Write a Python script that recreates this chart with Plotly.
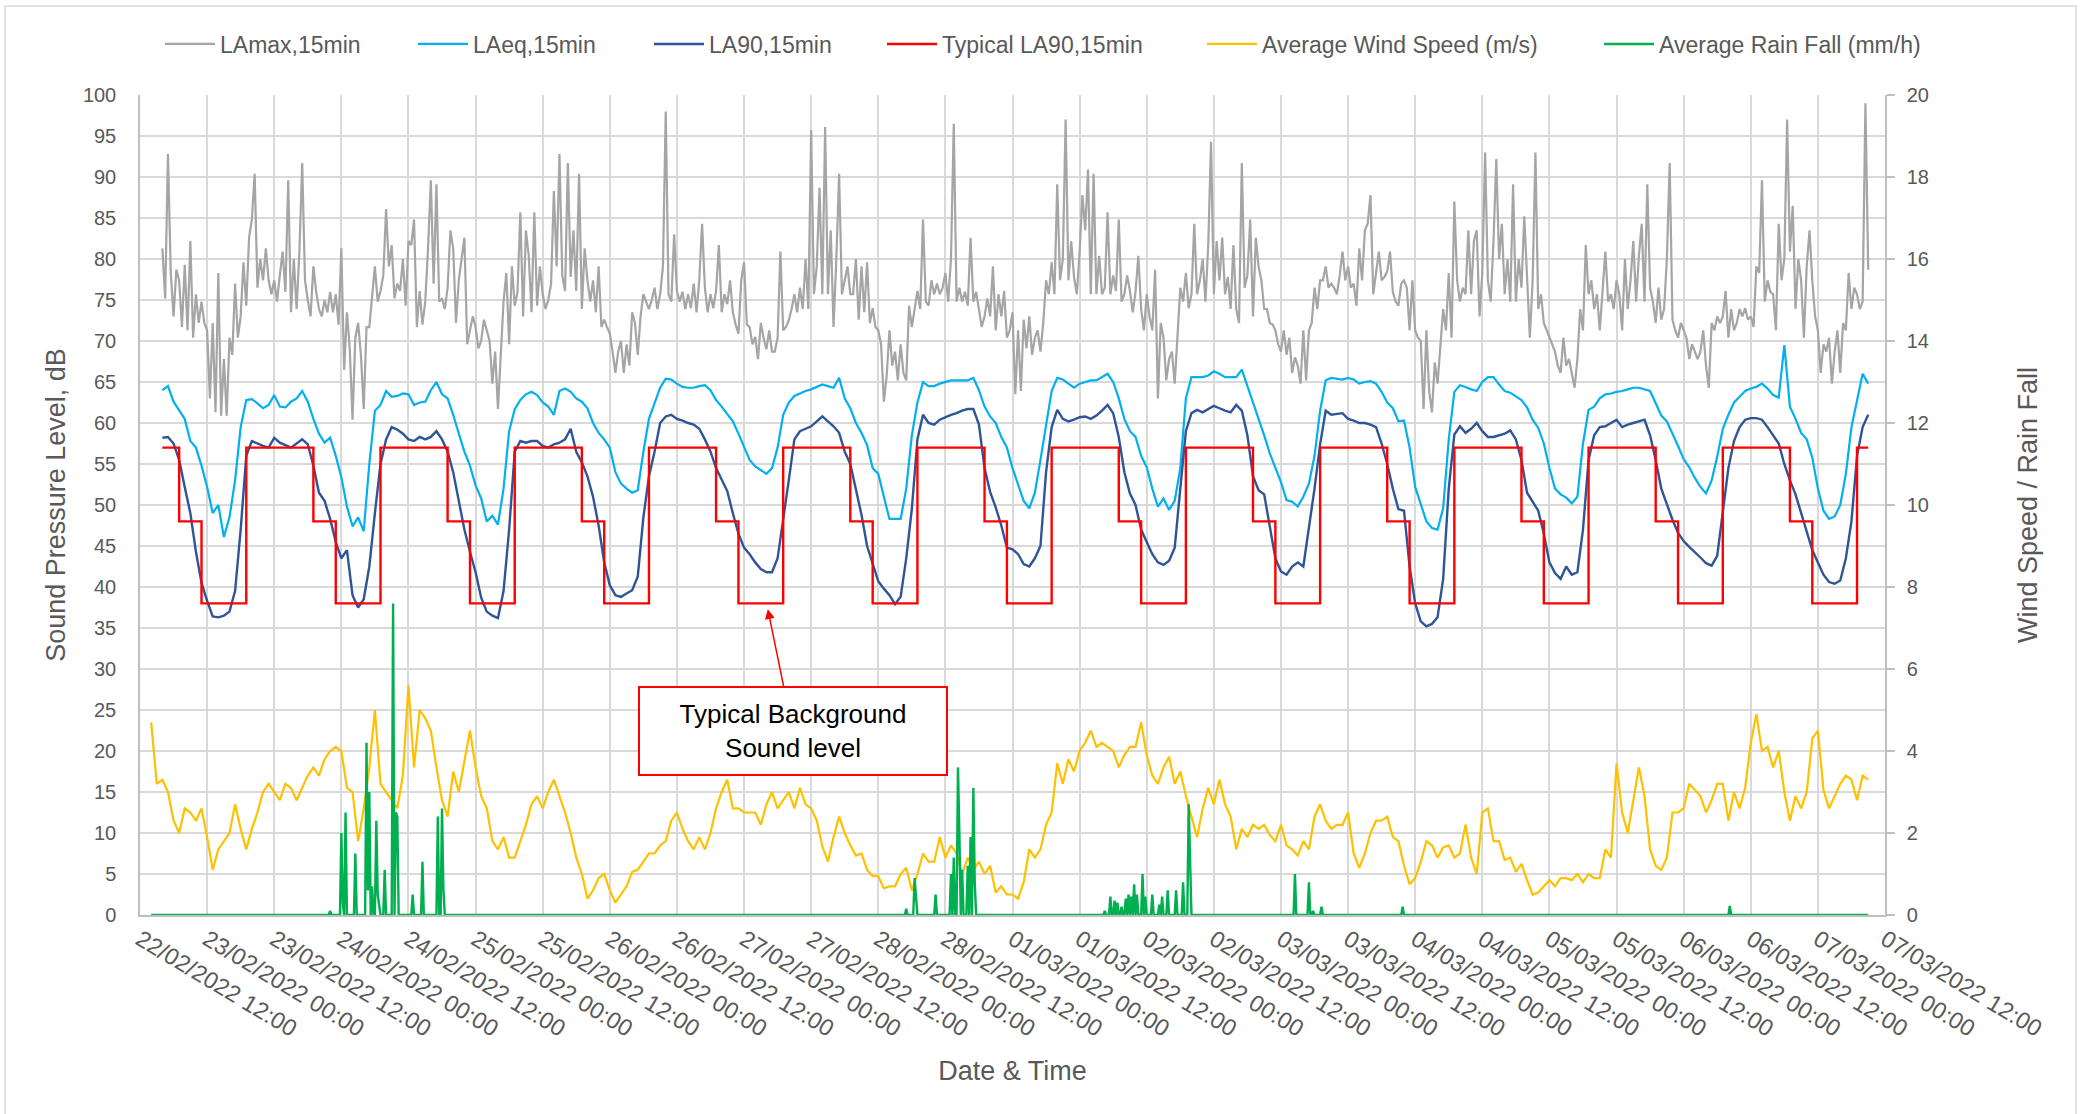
import pandas as pd
import plotly.graph_objects as go

# ---------------- data ----------------
SOUND_START = "2022-02-22 16:00"   # LAeq / LA90 hourly, LAmax half-hourly
WIND_START = "2022-02-22 14:00"    # hourly values
RAIN_START = "2022-02-22 14:00"    # 15-min values (zero where no rain)
RAIN_END = "2022-03-07 09:00"

la_max = [
    # 22/02 16:00 -> 27/02 09:30 (30-min readings)
    81.3, 75.2, 92.8, 78.3, 73.0, 78.7, 77.4, 71.7, 79.3, 71.3, 82.2, 70.4,
    75.7, 72.2, 74.8, 72.2, 71.3, 63.0, 72.2, 61.3, 78.3, 60.9, 67.8, 60.9,
    70.4, 68.3, 77.0, 70.4, 73.0, 79.6, 74.3, 82.6, 84.8, 90.4, 76.5, 80.0,
    77.4, 81.3, 77.4, 75.7, 77.4, 74.8, 78.0, 80.9, 76.0, 89.6, 73.5, 80.0,
    73.9, 80.9, 91.7, 77.4, 75.0, 73.0, 79.1, 76.0, 73.9, 73.0, 75.0, 73.5,
    76.0, 73.5, 75.7, 72.0, 81.3, 66.5, 73.5, 69.1, 60.4, 70.4, 72.2, 68.3,
    61.7, 71.7, 71.7, 75.2, 79.1, 74.8, 76.1, 78.0, 86.1, 79.1, 81.7, 75.2,
    77.0, 76.1, 80.0, 74.3, 82.2, 81.7, 84.8, 71.7, 76.1, 72.0, 74.8, 81.3,
    89.6, 77.0, 89.1, 74.8, 75.2, 73.9, 76.5, 83.5, 81.3, 72.2, 77.4, 80.0,
    82.6, 69.6, 71.3, 73.0, 71.7, 69.1, 70.0, 72.6, 71.3, 70.0, 64.8, 68.7,
    61.7, 68.3, 74.8, 78.3, 69.6, 79.1, 74.3, 76.0, 85.7, 73.0, 83.5, 80.4,
    73.5, 85.7, 74.3, 79.1, 75.7, 73.9, 75.0, 77.0, 88.3, 79.1, 92.8, 78.0,
    76.1, 91.7, 77.8, 83.5, 76.1, 90.4, 73.9, 81.3, 77.4, 74.8, 77.4, 73.5,
    79.1, 71.7, 72.6, 71.7, 70.9, 68.7, 66.1, 68.7, 70.0, 66.1, 69.6, 67.0,
    73.5, 72.2, 68.3, 73.0, 75.7, 74.8, 73.9, 75.0, 76.5, 73.9, 75.7, 79.1,
    98.0, 75.7, 74.8, 83.0, 76.1, 74.8, 76.0, 73.9, 75.7, 74.0, 77.0, 73.5,
    77.4, 84.3, 76.5, 73.5, 75.7, 74.0, 76.1, 81.7, 73.5, 75.7, 74.5, 77.4,
    73.5, 72.0, 70.9, 77.4, 79.6, 72.0, 71.7, 69.6, 70.5, 67.8, 72.2, 70.4,
    69.0, 71.3, 68.7, 68.7, 70.4, 80.9, 71.3, 71.7, 72.5, 73.9, 75.7, 73.5,
    # 27/02 10:00 -> 03/03 20:30
    76.5, 73.9, 80.0, 73.9, 95.7, 75.7, 79.1, 88.7, 75.7, 96.1, 75.7, 83.5,
    71.7, 80.0, 90.4, 75.7, 77.4, 79.1, 75.7, 75.7, 80.0, 72.6, 79.1, 73.5,
    79.6, 72.2, 74.0, 71.7, 71.3, 69.6, 62.6, 65.7, 71.3, 67.0, 68.7, 65.2,
    69.6, 66.1, 65.2, 74.3, 71.7, 73.9, 76.1, 73.9, 84.8, 74.8, 74.3, 77.4,
    75.7, 77.0, 75.7, 76.5, 78.3, 74.8, 80.0, 96.5, 74.8, 76.5, 74.8, 76.0,
    74.3, 82.6, 74.8, 76.0, 73.9, 71.7, 73.0, 75.2, 73.0, 79.1, 71.3, 75.7,
    73.0, 76.1, 70.4, 71.3, 73.5, 63.5, 71.3, 63.9, 72.6, 69.1, 73.0, 68.3,
    70.4, 71.3, 68.7, 72.2, 77.4, 75.7, 79.6, 75.7, 89.1, 77.4, 80.0, 97.0,
    77.4, 82.2, 77.8, 75.7, 80.9, 87.8, 83.5, 90.9, 75.7, 90.4, 75.7, 80.4,
    75.7, 76.5, 85.7, 75.7, 78.0, 76.1, 84.8, 74.8, 75.7, 78.0, 76.1, 73.5,
    76.0, 80.4, 73.9, 71.3, 75.7, 73.0, 71.3, 78.7, 63.0, 72.2, 70.4, 65.2,
    67.8, 68.7, 64.8, 70.4, 76.5, 74.8, 78.3, 74.0, 75.7, 84.3, 75.7, 77.4,
    80.0, 74.8, 81.7, 94.3, 75.7, 82.2, 77.4, 82.6, 75.7, 77.8, 73.9, 81.7,
    73.9, 72.2, 91.7, 76.5, 78.0, 84.8, 73.0, 82.6, 79.1, 77.4, 73.9, 73.9,
    72.2, 72.0, 71.3, 69.6, 68.7, 71.3, 68.3, 70.4, 66.1, 68.0, 67.0, 64.8,
    71.3, 65.2, 71.3, 72.2, 76.5, 73.9, 77.4, 77.4, 79.1, 76.5, 77.0, 76.5,
    75.7, 78.0, 80.9, 77.4, 79.1, 76.5, 77.0, 74.3, 81.3, 77.4, 83.5, 84.3,
    87.8, 75.7, 78.0, 80.9, 77.4, 77.8, 78.5, 80.9, 76.0, 74.8,
    # 03/03 21:00 -> 07/03 09:00
    74.3, 77.0, 77.4, 76.5, 71.3, 77.4, 71.3, 70.4, 70.0, 61.7, 71.3, 63.9,
    61.3, 67.4, 64.8, 69.6, 73.9, 71.3, 78.3, 70.4, 87.0, 77.4, 74.8, 76.5,
    75.7, 83.5, 75.7, 82.2, 83.5, 73.0, 78.3, 93.0, 77.4, 74.8, 82.2, 92.2,
    80.0, 84.3, 75.7, 80.0, 74.8, 89.1, 74.8, 80.0, 76.5, 85.2, 77.4, 70.4,
    77.4, 93.0, 73.9, 75.7, 72.2, 71.3, 70.4, 69.6, 68.7, 67.0, 66.1, 70.4,
    67.0, 67.8, 66.1, 64.3, 67.8, 73.9, 71.3, 81.7, 75.7, 77.4, 73.9, 75.7,
    71.3, 75.7, 80.9, 74.8, 75.7, 73.9, 77.4, 75.7, 71.3, 80.0, 73.9, 77.4,
    82.2, 74.8, 80.4, 84.3, 74.8, 89.1, 76.5, 74.8, 72.2, 76.5, 72.6, 73.9,
    80.0, 91.7, 72.6, 71.3, 70.4, 72.2, 71.3, 70.4, 67.8, 69.6, 68.7, 67.8,
    68.7, 71.3, 67.0, 64.3, 72.2, 71.3, 73.0, 72.2, 73.0, 76.1, 70.4, 73.9,
    71.3, 72.2, 73.9, 73.0, 74.0, 72.6, 73.0, 71.7, 79.1, 78.3, 89.6, 74.8,
    77.4, 76.0, 75.7, 71.3, 84.3, 77.4, 80.0, 97.0, 80.9, 86.5, 73.9, 80.0,
    77.4, 70.4, 79.1, 83.5, 77.4, 73.0, 71.3, 66.1, 69.6, 68.7, 70.4, 64.8,
    68.7, 71.3, 66.1, 72.2, 71.3, 78.3, 73.9, 76.5, 75.7, 73.9, 74.8, 99.0,
    78.7,
]

la_eq = [
    64.0, 64.5, 62.6, 61.5, 60.5, 57.8, 57.0, 54.8,
    52.2, 49.0, 50.0, 46.1, 48.5, 53.0, 59.5, 62.8, 62.9, 62.4, 61.8, 62.2,
    63.4, 62.0, 61.9, 62.6, 63.0, 63.9, 62.6, 60.5, 58.7, 57.6, 58.2, 56.0,
    53.4, 49.8, 47.4, 48.5, 46.8, 55.0, 61.5, 62.2, 63.9, 63.2, 63.3, 63.6,
    63.5, 62.2, 62.5, 62.6, 64.0, 65.0, 63.5, 63.0, 61.0, 58.7, 56.5, 54.8,
    52.4, 50.8, 48.0, 48.7, 47.6, 52.0, 59.0, 61.7, 62.8, 63.5, 63.8, 63.4,
    62.5, 62.0, 61.0, 63.9, 64.2, 63.8, 63.0, 62.6, 61.8, 60.0, 58.8, 58.0,
    57.0, 54.0, 52.6, 52.0, 51.5, 51.8, 56.5, 60.5, 62.5, 64.3, 65.4, 65.3,
    64.8, 64.4, 64.3, 64.3, 64.5, 64.6, 64.0, 62.8, 62.0, 61.1, 60.2, 58.7,
    57.2, 55.5, 54.7, 54.2, 53.8, 54.5, 57.0, 61.0, 62.5, 63.3, 63.6, 63.9,
    64.1, 64.4, 64.7, 64.5, 64.3, 65.5, 63.0, 61.8, 60.0, 58.8, 57.3, 54.5,
    53.8, 51.0, 48.3, 48.3, 48.3, 52.0, 58.5, 62.5, 65.0, 64.5, 64.5, 64.8,
    65.0, 65.2, 65.2, 65.2, 65.2, 65.5, 64.0, 62.0, 60.8, 60.0, 58.3, 57.0,
    54.5, 52.5, 50.5, 49.6, 51.5, 55.5, 59.5, 63.9, 65.5, 65.3, 64.8, 64.3,
    64.8, 65.0, 65.2, 65.2, 65.6, 66.0, 65.0, 63.0, 60.5, 59.0, 58.3, 56.0,
    54.6, 52.0, 49.8, 50.8, 49.4, 50.5, 54.5, 63.0, 65.6, 65.6, 65.6, 65.8,
    66.3, 66.0, 65.6, 65.6, 65.6, 66.5, 64.5, 62.5, 60.7, 58.5, 56.3, 54.6,
    52.8, 50.6, 50.4, 49.8, 51.0, 52.6, 56.0, 61.5, 65.2, 65.5, 65.4, 65.3,
    65.5, 65.3, 64.8, 65.0, 65.1, 64.8, 63.8, 62.5, 61.8, 60.2, 60.3, 57.0,
    52.2, 50.0, 48.0, 47.2, 47.0, 49.6, 58.0, 63.8, 64.6, 64.4, 64.1, 63.9,
    65.0, 65.6, 65.6, 64.7, 63.9, 63.7, 63.3, 62.8, 61.9, 60.4, 59.4, 57.5,
    54.5, 52.0, 51.3, 50.9, 50.2, 51.0, 57.5, 61.6, 62.0, 63.0, 63.5, 63.6,
    63.8, 63.9, 64.1, 64.3, 64.3, 64.1, 63.9, 62.4, 60.9, 60.2, 58.8, 57.2,
    55.6, 54.6, 53.3, 52.2, 51.4, 53.0, 55.9, 59.3, 61.0, 62.5, 63.2, 63.9,
    64.2, 64.4, 64.8, 64.2, 63.4, 63.1, 69.5, 62.0, 60.5, 58.8, 58.0, 55.8,
    52.0, 49.3, 48.3, 48.6, 50.0, 53.8, 59.5, 62.6, 66.0, 64.8,
]

la_90 = [
    58.2, 58.3, 57.5, 55.5, 52.2, 49.0, 44.3, 40.5,
    38.3, 36.4, 36.3, 36.5, 37.0, 39.5, 47.0, 56.0, 57.8, 57.5, 57.2, 57.0,
    58.2, 57.6, 57.3, 57.0, 57.5, 58.0, 57.4, 54.8, 51.5, 50.5, 48.3, 45.5,
    43.5, 44.5, 39.0, 37.5, 38.5, 42.5, 49.0, 55.0, 58.0, 59.5, 59.2, 58.7,
    58.0, 57.8, 58.3, 58.0, 58.3, 59.0, 58.0, 56.5, 54.0, 50.5, 47.0, 44.3,
    41.8, 38.7, 37.0, 36.5, 36.2, 39.5, 47.0, 56.5, 57.8, 57.6, 57.8, 57.8,
    57.2, 57.0, 57.4, 57.6, 58.0, 59.3, 56.5, 55.2, 53.5, 51.0, 47.5, 43.0,
    40.2, 39.0, 38.8, 39.2, 39.6, 41.3, 48.5, 53.5, 56.5, 60.0, 60.8, 61.0,
    60.5, 60.3, 60.0, 59.8, 59.3, 58.0, 56.5, 54.5, 53.0, 51.7, 49.0, 46.5,
    44.8, 44.0, 43.0, 42.2, 41.8, 41.8, 43.5, 48.0, 53.0, 58.0, 59.0, 59.3,
    59.6, 60.2, 60.8, 60.2, 59.6, 58.8, 56.5, 55.0, 51.7, 48.8, 45.0, 42.8,
    40.7, 39.8, 39.0, 37.9, 38.8, 43.5, 49.5, 58.0, 61.0, 60.0, 59.8, 60.4,
    60.7, 61.0, 61.2, 61.5, 61.7, 61.7, 59.8, 54.5, 51.6, 49.7, 47.5, 44.8,
    44.6, 44.0, 42.8, 42.5, 43.5, 45.0, 54.0, 59.5, 61.6, 60.5, 60.2, 60.4,
    60.7, 60.8, 60.5, 60.9, 61.5, 62.2, 61.2, 58.3, 54.0, 51.4, 50.0, 47.0,
    45.5, 44.0, 43.0, 42.7, 43.2, 44.8, 52.0, 59.0, 61.2, 61.6, 61.3, 61.7,
    62.1, 61.8, 61.5, 61.3, 62.2, 61.5, 58.5, 53.5, 51.8, 51.3, 47.5, 43.5,
    41.9, 41.5, 42.5, 43.0, 42.5, 47.0, 52.0, 57.4, 61.5, 61.0, 61.1, 61.2,
    60.5, 60.3, 60.0, 60.0, 59.8, 59.5, 57.5, 55.0, 52.0, 49.5, 49.3, 42.5,
    38.0, 35.8, 35.2, 35.5, 36.3, 41.0, 52.0, 58.6, 59.6, 58.8, 59.3, 60.0,
    59.0, 58.3, 58.3, 58.5, 58.7, 59.1, 58.0, 55.5, 51.5, 50.4, 49.3, 46.5,
    43.0, 41.7, 41.0, 42.5, 41.5, 41.8, 47.0, 55.5, 58.5, 59.5, 59.6, 60.0,
    60.4, 59.5, 59.8, 60.0, 60.2, 60.4, 58.5, 55.5, 52.0, 50.0, 48.2, 46.6,
    45.6, 44.9, 44.3, 43.6, 42.9, 42.6, 43.8, 49.5, 54.5, 57.8, 59.5, 60.4,
    60.6, 60.6, 60.4, 59.5, 58.5, 57.5, 55.0, 53.0, 51.3, 49.0, 46.5, 44.5,
    43.0, 41.5, 40.6, 40.4, 40.8, 43.5, 48.0, 56.0, 59.5, 61.0,
]

typical_times = [
    "2022-02-22 16:00", "2022-02-22 19:00", "2022-02-22 23:00",
    "2022-02-23 07:00", "2022-02-23 19:00", "2022-02-23 23:00",
    "2022-02-24 07:00", "2022-02-24 19:00", "2022-02-24 23:00",
    "2022-02-25 07:00", "2022-02-25 19:00", "2022-02-25 23:00",
    "2022-02-26 07:00", "2022-02-26 19:00", "2022-02-26 23:00",
    "2022-02-27 07:00", "2022-02-27 19:00", "2022-02-27 23:00",
    "2022-02-28 07:00", "2022-02-28 19:00", "2022-02-28 23:00",
    "2022-03-01 07:00", "2022-03-01 19:00", "2022-03-01 23:00",
    "2022-03-02 07:00", "2022-03-02 19:00", "2022-03-02 23:00",
    "2022-03-03 07:00", "2022-03-03 19:00", "2022-03-03 23:00",
    "2022-03-04 07:00", "2022-03-04 19:00", "2022-03-04 23:00",
    "2022-03-05 07:00", "2022-03-05 19:00", "2022-03-05 23:00",
    "2022-03-06 07:00", "2022-03-06 19:00", "2022-03-06 23:00",
    "2022-03-07 07:00", "2022-03-07 09:00",
]
typical_values = [57, 48, 38] * 13 + [57, 57]

wind = [
    4.7, 3.2, 3.3, 3.0, 2.3, 2.0, 2.6, 2.5, 2.3, 2.6,
    1.9, 1.1, 1.6, 1.8, 2.0, 2.7, 2.1, 1.6, 2.1, 2.5, 3.0, 3.2,
    3.0, 2.8, 3.2, 3.1, 2.8, 3.1, 3.4, 3.6, 3.4, 3.8, 4.0, 4.1,
    4.0, 3.1, 3.0, 1.8, 2.6, 3.6, 5.0, 3.2, 3.0, 2.8, 2.6, 3.4,
    5.6, 3.6, 5.0, 4.8, 4.5, 3.6, 2.8, 2.4, 3.5, 3.0, 3.8, 4.5,
    3.6, 2.9, 2.6, 1.8, 1.6, 1.9, 1.4, 1.4, 1.8, 2.2, 2.7, 2.9,
    2.6, 3.0, 3.3, 2.9, 2.5, 2.0, 1.4, 1.0, 0.4, 0.6, 0.9, 1.0,
    0.6, 0.3, 0.5, 0.7, 1.05, 1.1, 1.3, 1.5, 1.5, 1.7, 1.8, 2.3,
    2.5, 2.1, 1.8, 1.6, 1.9, 1.6, 2.0, 2.6, 3.0, 3.3, 2.6, 2.6,
    2.5, 2.5, 2.5, 2.2, 2.7, 3.0, 2.6, 2.8, 3.0, 2.6, 3.1, 2.7,
    2.6, 2.3, 1.67, 1.3, 1.9, 2.4, 2.0, 1.7, 1.45, 1.5, 1.1, 0.95,
    0.95, 0.65, 0.7, 0.7, 1.0, 1.15, 0.6, 1.0, 1.5, 1.3, 1.3, 1.9,
    1.4, 1.7, 1.5, 1.0, 1.4, 1.1, 1.3, 1.0, 1.2, 0.55, 0.7, 0.5,
    0.5, 0.4, 0.8, 1.6, 1.4, 1.6, 2.2, 2.5, 3.7, 3.2, 3.8, 3.5,
    4.0, 4.2, 4.5, 4.1, 4.2, 4.1, 4.0, 3.6, 3.9, 4.1, 4.1, 4.7,
    3.9, 3.4, 3.2, 3.6, 3.86, 3.2, 3.5, 2.9, 2.4, 1.9, 2.6, 3.1,
    2.7, 3.3, 2.7, 2.4, 1.6, 2.1, 1.9, 2.2, 2.1, 2.2, 1.95, 1.8,
    2.2, 1.7, 1.6, 1.45, 1.8, 1.6, 2.4, 2.7, 2.3, 2.1, 2.2, 2.2,
    2.5, 1.5, 1.15, 1.5, 2.0, 2.3, 2.3, 2.4, 1.9, 1.8, 1.2, 0.75,
    0.9, 1.3, 1.8, 1.7, 1.4, 1.65, 1.7, 1.4, 1.5, 2.2, 1.4, 1.0,
    2.5, 2.6, 1.8, 1.8, 1.34, 1.4, 1.05, 1.25, 0.85, 0.5, 0.55, 0.7,
    0.85, 0.7, 0.9, 0.9, 0.85, 1.0, 0.8, 1.0, 0.9, 0.9, 1.6, 1.4,
    3.7, 2.5, 2.0, 2.8, 3.6, 2.9, 1.6, 1.2, 1.1, 1.4, 2.5, 2.5,
    2.6, 3.2, 3.05, 2.9, 2.5, 2.8, 3.2, 3.2, 2.3, 3.0, 2.6, 3.1,
    4.2, 4.9, 4.0, 4.1, 3.6, 4.0, 3.0, 2.3, 2.9, 2.6, 3.0, 4.3,
    4.5, 3.05, 2.6, 2.9, 3.2, 3.4, 3.3, 2.8, 3.4, 3.3,
]

# rainfall readings (mm/h); every other 15-min interval reads 0
rain_times = [
    "2022-02-23 22:00", "2022-02-24 00:00", "2022-02-24 00:15", "2022-02-24 00:45",
    "2022-02-24 02:30", "2022-02-24 04:30", "2022-02-24 04:45", "2022-02-24 05:00",
    "2022-02-24 05:30", "2022-02-24 06:15", "2022-02-24 06:30", "2022-02-24 06:45",
    "2022-02-24 07:45", "2022-02-24 09:15", "2022-02-24 09:45", "2022-02-24 10:00",
    "2022-02-24 12:45", "2022-02-24 14:30", "2022-02-24 17:15", "2022-02-24 18:00",
    "2022-02-24 18:15",
    "2022-02-28 05:00", "2022-02-28 06:30", "2022-02-28 06:45", "2022-02-28 10:15",
    "2022-02-28 13:00", "2022-02-28 13:30", "2022-02-28 14:15", "2022-02-28 14:30",
    "2022-02-28 15:00", "2022-02-28 16:00", "2022-02-28 16:30", "2022-02-28 17:00",
    "2022-02-28 17:15",
    "2022-03-01 16:30", "2022-03-01 17:30", "2022-03-01 18:15", "2022-03-01 18:45",
    "2022-03-01 19:30", "2022-03-01 20:15", "2022-03-01 20:45", "2022-03-01 21:15",
    "2022-03-01 21:45", "2022-03-01 22:15", "2022-03-01 23:15", "2022-03-01 23:45",
    "2022-03-02 01:00", "2022-03-02 02:15", "2022-03-02 02:45", "2022-03-02 03:45",
    "2022-03-02 05:15", "2022-03-02 06:30", "2022-03-02 07:30", "2022-03-02 07:45",
    "2022-03-03 02:30", "2022-03-03 05:00", "2022-03-03 05:45", "2022-03-03 07:15",
    "2022-03-03 21:45", "2022-03-06 08:15",
]
rain_values = [
    0.1, 2.0, 0.3, 2.5,
    1.5, 4.2, 0.6, 3.0,
    0.7, 2.3, 0.5, 0.3,
    1.1, 7.6, 2.5, 2.4,
    0.5, 1.3, 2.4, 2.6,
    0.6,
    0.15, 0.9, 0.5, 0.5,
    1.0, 1.4, 3.6, 2.0,
    1.1, 1.2, 1.9, 3.1,
    0.8,
    0.1, 0.45, 0.35, 0.3,
    0.2, 0.4, 0.5, 0.45,
    0.75, 0.5, 1.0, 0.45,
    0.5, 0.25, 0.45, 0.6,
    0.6, 0.8, 2.7, 0.85,
    1.0, 0.8, 0.1, 0.2,
    0.2, 0.22,
]

x_tick_labels = [
    "22/02/2022 12:00", "23/02/2022 00:00", "23/02/2022 12:00", "24/02/2022 00:00",
    "24/02/2022 12:00", "25/02/2022 00:00", "25/02/2022 12:00", "26/02/2022 00:00",
    "26/02/2022 12:00", "27/02/2022 00:00", "27/02/2022 12:00", "28/02/2022 00:00",
    "28/02/2022 12:00", "01/03/2022 00:00", "01/03/2022 12:00", "02/03/2022 00:00",
    "02/03/2022 12:00", "03/03/2022 00:00", "03/03/2022 12:00", "04/03/2022 00:00",
    "04/03/2022 12:00", "05/03/2022 00:00", "05/03/2022 12:00", "06/03/2022 00:00",
    "06/03/2022 12:00", "07/03/2022 00:00", "07/03/2022 12:00",
]

# ---------------- build series ----------------
t_max = pd.date_range(SOUND_START, periods=len(la_max), freq="30min")
t_eq = pd.date_range(SOUND_START, periods=len(la_eq), freq="h")
t_90 = pd.date_range(SOUND_START, periods=len(la_90), freq="h")
t_wind = pd.date_range(WIND_START, periods=len(wind), freq="h")
rain = pd.Series(0.0, index=pd.date_range(RAIN_START, RAIN_END, freq="15min"))
rain.loc[pd.to_datetime(rain_times)] = rain_values
tick_vals = pd.to_datetime(x_tick_labels, format="%d/%m/%Y %H:%M")

FONT = "Arial, 'Liberation Sans', sans-serif"
GREY_TXT = "#595959"

fig = go.Figure()
fig.add_trace(go.Scatter(x=t_max, y=la_max, name="LAmax,15min", mode="lines",
                         line=dict(color="#A5A5A5", width=2.2), legend="legend"))
fig.add_trace(go.Scatter(x=t_eq, y=la_eq, name="LAeq,15min", mode="lines",
                         line=dict(color="#00B0F0", width=2.2), legend="legend2"))
fig.add_trace(go.Scatter(x=t_90, y=la_90, name="LA90,15min", mode="lines",
                         line=dict(color="#2F5597", width=2.4), legend="legend3"))
fig.add_trace(go.Scatter(x=pd.to_datetime(typical_times), y=typical_values,
                         name="Typical LA90,15min", mode="lines",
                         line=dict(color="#FF0000", width=2.4, shape="hv"), legend="legend4"))
fig.add_trace(go.Scatter(x=t_wind, y=wind, name="Average Wind Speed (m/s)", mode="lines",
                         line=dict(color="#FFC000", width=2.2), yaxis="y2", legend="legend5"))
fig.add_trace(go.Scatter(x=rain.index, y=rain.values, name="Average Rain Fall (mm/h)",
                         mode="lines", line=dict(color="#00B050", width=2.4),
                         yaxis="y2", legend="legend6"))

PL, PR, PT, PB = 140, 1885, 95, 915
W, H = 2087, 1114
pw, ph = PR - PL, PB - PT


def px_x(p):
    return (p - PL) / pw


def px_y(p):
    return (PB - p) / ph


ITEM_W = 50
legend_common = dict(orientation="h", yanchor="middle", xanchor="left",
                      y=px_y(44), bgcolor="rgba(0,0,0,0)", itemwidth=ITEM_W,
                      font=dict(family=FONT, size=23, color=GREY_TXT))
# x where each legend entry's text begins
text_x = [220, 473, 709, 942, 1262, 1659]
leg_x = [t - (ITEM_W + 10) for t in text_x]

fig.update_layout(
    width=W, height=H,
    margin=dict(l=PL, r=W - PR, t=PT, b=H - PB),
    paper_bgcolor="white", plot_bgcolor="white",
    font=dict(family=FONT, color=GREY_TXT, size=20),
    showlegend=True,
    legend=dict(x=px_x(leg_x[0]), **legend_common),
    legend2=dict(x=px_x(leg_x[1]), **legend_common),
    legend3=dict(x=px_x(leg_x[2]), **legend_common),
    legend4=dict(x=px_x(leg_x[3]), **legend_common),
    legend5=dict(x=px_x(leg_x[4]), **legend_common),
    legend6=dict(x=px_x(leg_x[5]), **legend_common),
    xaxis=dict(
        type="date", range=["2022-02-22 12:00", "2022-03-07 12:00"],
        tickmode="array", tickvals=tick_vals, ticktext=x_tick_labels,
        tickangle=31, tickfont=dict(size=23.5, color=GREY_TXT),
        showgrid=True, gridcolor="#D9D9D9", gridwidth=1.5,
        showline=True, linecolor="#BFBFBF", linewidth=1.5, ticks="",
        zeroline=False,
        title=dict(text="Date & Time", font=dict(size=27, color=GREY_TXT), standoff=20),
    ),
    yaxis=dict(
        range=[0, 100], tick0=0, dtick=5,
        tickfont=dict(size=20, color=GREY_TXT),
        showgrid=True, gridcolor="#D9D9D9", gridwidth=1.5,
        showline=True, linecolor="#BFBFBF", linewidth=1.5, ticks="",
        zeroline=False, ticklabelstandoff=18,
        title=dict(text="Sound Pressure Level, dB", font=dict(size=27, color=GREY_TXT), standoff=9),
    ),
    yaxis2=dict(
        range=[0, 20], tick0=0, dtick=2, overlaying="y", side="right",
        tickfont=dict(size=20, color=GREY_TXT),
        showgrid=False, showline=True, linecolor="#BFBFBF", linewidth=1.5,
        ticks="outside", ticklen=8, tickcolor="#BFBFBF", tickwidth=1.5,
        zeroline=False, ticklabelstandoff=8,
        title=dict(text="Wind Speed / Rain Fall", font=dict(size=27, color=GREY_TXT), standoff=90),
    ),
)

# outer chart-area border
fig.add_shape(type="rect", xref="paper", yref="paper",
              x0=px_x(5), x1=px_x(2076), y0=px_y(1130), y1=px_y(6),
              line=dict(color="#D9D9D9", width=1.5), fillcolor="rgba(0,0,0,0)", layer="below")

# call-out
fig.add_annotation(
    x=pd.Timestamp("2022-02-27 04:15"), y=37.3, xref="x", yref="y",
    ax=25, ay=122, axref="pixel", ayref="pixel",
    text="Typical Background<br>Sound level", showarrow=True,
    arrowhead=2, arrowsize=1.3, arrowwidth=1.5, arrowcolor="#FF0000",
    bordercolor="#FF0000", borderwidth=2, borderpad=0, bgcolor="white",
    width=306, height=86, align="center",
    font=dict(family=FONT, size=26, color="black"),
)

fig.write_html("out.html", config={"displayModeBar": False},
               post_script="document.body.style.margin='0';document.body.style.overflow='hidden';")
